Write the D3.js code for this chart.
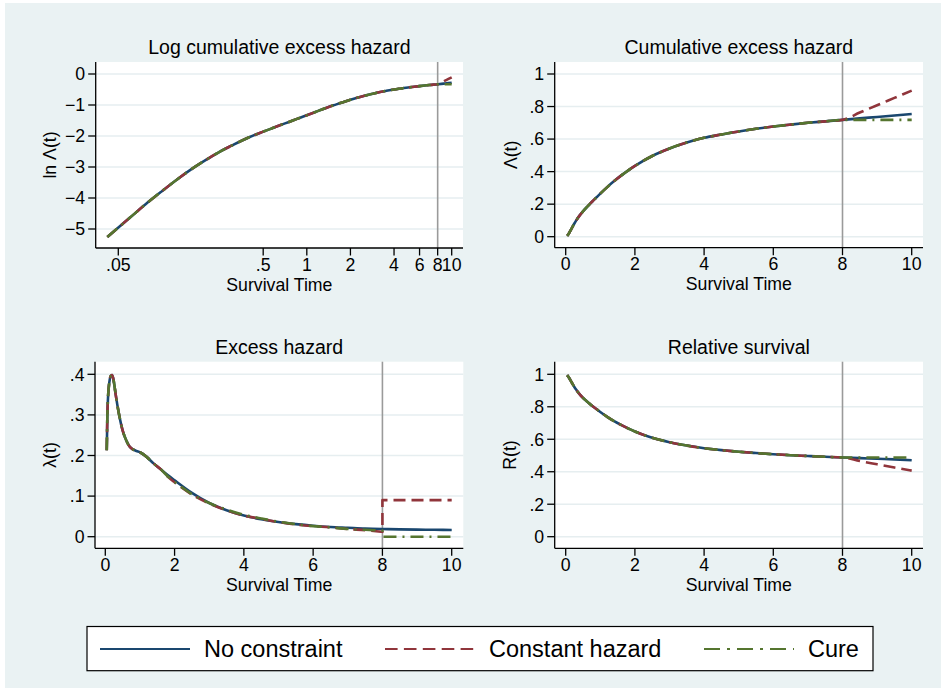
<!DOCTYPE html>
<html><head><meta charset="utf-8">
<script src="https://cdn.jsdelivr.net/npm/d3@7"></script>
<style>
body{margin:0;background:#fff}
text{font-family:"Liberation Sans",Arial,Helvetica,sans-serif;fill:#000}
</style>
</head><body>
<svg id="chart" width="946" height="691"></svg>
<script>
// ---------------- DATA ----------------
const seriesNames = ["No constraint", "Constant hazard", "Cure"];
const seriesColors = ["#1a476f", "#90353b", "#55752f"];
const seriesDash = [null, "12,6", "13,6,2,6"];

const panelTitles = ["Log cumulative excess hazard", "Cumulative excess hazard", "Excess hazard", "Relative survival"];
const yTitles = ["ln \u039B(t)", "\u039B(t)", "\u03BB(t)", "R(t)"];
const xTitle = "Survival Time";

const logXTicks = [0.05, 0.5, 1, 2, 4, 6, 8, 10];
const logXLabels = [".05", ".5", "1", "2", "4", "6", "8", "10"];
const linXTicks = [0, 2, 4, 6, 8, 10];
const linXLabels = ["0", "2", "4", "6", "8", "10"];
const lnYTicks = [0, -1, -2, -3, -4, -5];
const lnYLabels = ["0", "\u22121", "\u22122", "\u22123", "\u22124", "\u22125"];
const unitYTicks = [0, 0.2, 0.4, 0.6, 0.8, 1];
const unitYLabels = ["0", ".2", ".4", ".6", ".8", "1"];
const hazYTicks = [0, 0.1, 0.2, 0.3, 0.4];
const hazYLabels = ["0", ".1", ".2", ".3", ".4"];
const cutTime = 8;

const time = [0.042, 0.06, 0.08, 0.1, 0.13, 0.16, 0.2, 0.25, 0.3, 0.4, 0.5, 0.6, 0.7, 0.8, 0.9, 1.0,
  1.2, 1.4, 1.6, 1.8, 2.0, 2.5, 3.0, 3.5, 4.0, 4.5, 5.0, 5.5, 6.0, 6.5, 7.0, 7.5, 8.0, 8.5, 9.0, 9.5, 10.0];

// Log cumulative excess hazard
const lnCumHazNone = [-5.26, -4.64, -4.14, -3.78, -3.37, -3.07, -2.78, -2.51, -2.32, -2.04, -1.86, -1.72, -1.60, -1.50, -1.41, -1.33,
  -1.19, -1.07, -0.98, -0.90, -0.83, -0.70, -0.61, -0.547, -0.498, -0.465, -0.435, -0.411, -0.390, -0.372, -0.357, -0.344, -0.331,
  -0.319, -0.306, -0.294, -0.282];
const lnCumHazConst = [-5.26, -4.64, -4.14, -3.78, -3.37, -3.07, -2.78, -2.51, -2.32, -2.04, -1.86, -1.72, -1.60, -1.50, -1.41, -1.33,
  -1.19, -1.07, -0.98, -0.90, -0.83, -0.70, -0.61, -0.547, -0.498, -0.465, -0.435, -0.411, -0.390, -0.372, -0.357, -0.344, -0.331,
  -0.270, -0.213, -0.159, -0.108];
const lnCumHazCure = [-5.26, -4.64, -4.14, -3.78, -3.37, -3.07, -2.78, -2.51, -2.32, -2.04, -1.86, -1.72, -1.60, -1.50, -1.41, -1.33,
  -1.19, -1.07, -0.98, -0.90, -0.83, -0.70, -0.61, -0.547, -0.498, -0.465, -0.435, -0.411, -0.390, -0.372, -0.357, -0.344, -0.331,
  -0.331, -0.331, -0.331, -0.331];

// Cumulative excess hazard
const cumHazNone = [0.0052, 0.0097, 0.0159, 0.0229, 0.0343, 0.0462, 0.0621, 0.0811, 0.0986, 0.1296, 0.156, 0.1795, 0.2015, 0.2228, 0.2438, 0.2646,
  0.3046, 0.3416, 0.3752, 0.4062, 0.4348, 0.4958, 0.5418, 0.5788, 0.6078, 0.628, 0.647, 0.663, 0.677, 0.689, 0.700, 0.709, 0.718,
  0.727, 0.736, 0.745, 0.754];
const cumHazConst = [0.0052, 0.0097, 0.0159, 0.0229, 0.0343, 0.0462, 0.0621, 0.0811, 0.0986, 0.1296, 0.156, 0.1795, 0.2015, 0.2228, 0.2438, 0.2646,
  0.3046, 0.3416, 0.3752, 0.4062, 0.4348, 0.4958, 0.5418, 0.5788, 0.6078, 0.628, 0.647, 0.663, 0.677, 0.689, 0.700, 0.709, 0.718,
  0.763, 0.808, 0.853, 0.898];
const cumHazCure = [0.0052, 0.0097, 0.0159, 0.0229, 0.0343, 0.0462, 0.0621, 0.0811, 0.0986, 0.1296, 0.156, 0.1795, 0.2015, 0.2228, 0.2438, 0.2646,
  0.3046, 0.3416, 0.3752, 0.4062, 0.4348, 0.4958, 0.5418, 0.5788, 0.6078, 0.628, 0.647, 0.663, 0.677, 0.689, 0.700, 0.709, 0.718,
  0.718, 0.718, 0.718, 0.718];

// Excess hazard (time 8 appears twice: value just before and just after the cut)
const hazTime = [0.042, 0.06, 0.08, 0.1, 0.13, 0.16, 0.2, 0.25, 0.3, 0.4, 0.5, 0.6, 0.7, 0.8, 0.9, 1.0,
  1.2, 1.4, 1.6, 1.8, 2.0, 2.5, 3.0, 3.5, 4.0, 4.5, 5.0, 5.5, 6.0, 6.5, 7.0, 7.5, 8.0, 8.0, 8.5, 9.0, 9.5, 10.0];
const hazNone = [0.213, 0.30, 0.345, 0.368, 0.388, 0.396, 0.398, 0.38, 0.35, 0.30, 0.262, 0.238, 0.222, 0.215, 0.211, 0.208,
  0.196, 0.180, 0.166, 0.152, 0.139, 0.108, 0.083, 0.065, 0.052, 0.043, 0.036, 0.031, 0.027, 0.024, 0.022, 0.020, 0.019,
  0.019, 0.018, 0.0175, 0.017, 0.0165];
const hazConst = [0.213, 0.30, 0.345, 0.368, 0.388, 0.396, 0.398, 0.38, 0.35, 0.30, 0.262, 0.238, 0.222, 0.215, 0.211, 0.208,
  0.196, 0.180, 0.166, 0.148, 0.134, 0.104, 0.082, 0.065, 0.052, 0.044, 0.036, 0.030, 0.026, 0.023, 0.019, 0.016, 0.012,
  0.09, 0.09, 0.09, 0.09, 0.09];
const hazCure = [0.213, 0.30, 0.345, 0.368, 0.388, 0.396, 0.398, 0.38, 0.35, 0.30, 0.262, 0.238, 0.222, 0.215, 0.211, 0.208,
  0.196, 0.180, 0.166, 0.149, 0.135, 0.105, 0.083, 0.067, 0.054, 0.045, 0.037, 0.031, 0.026, 0.023, 0.019, 0.017, 0.015,
  0, 0, 0, 0, 0];

// Relative survival
const relSurvNone = [0.995, 0.99, 0.984, 0.977, 0.966, 0.955, 0.94, 0.922, 0.906, 0.878, 0.855, 0.836, 0.817, 0.800, 0.784, 0.768,
  0.738, 0.711, 0.688, 0.667, 0.648, 0.609, 0.582, 0.561, 0.545, 0.533, 0.523, 0.515, 0.508, 0.502, 0.497, 0.492, 0.488,
  0.484, 0.480, 0.476, 0.471];
const relSurvConst = [0.995, 0.99, 0.984, 0.977, 0.966, 0.955, 0.94, 0.922, 0.906, 0.878, 0.855, 0.836, 0.817, 0.800, 0.784, 0.768,
  0.738, 0.711, 0.688, 0.667, 0.648, 0.609, 0.582, 0.561, 0.545, 0.533, 0.523, 0.515, 0.508, 0.502, 0.497, 0.492, 0.488,
  0.466, 0.446, 0.426, 0.407];
const relSurvCure = [0.995, 0.99, 0.984, 0.977, 0.966, 0.955, 0.94, 0.922, 0.906, 0.878, 0.855, 0.836, 0.817, 0.800, 0.784, 0.768,
  0.738, 0.711, 0.688, 0.667, 0.648, 0.609, 0.582, 0.561, 0.545, 0.533, 0.523, 0.515, 0.508, 0.502, 0.497, 0.492, 0.488,
  0.488, 0.488, 0.488, 0.488];

// ---------------- LAYOUT ----------------
const svg = d3.select("#chart");
const BG = "#eaf2f3";
svg.append("rect").attr("x", 5).attr("y", 3).attr("width", 936).attr("height", 685).attr("fill", BG);

const panels = [
  { box: [95.7, 62, 463, 248], x: d3.scaleLog().domain([0.05, 10]).range([118.3, 451.7]),
    y: d3.scaleLinear().domain([-5, 0]).range([229, 74]),
    xt: logXTicks, xl: logXLabels, yt: lnYTicks, yl: lnYLabels,
    t: time, data: [lnCumHazNone, lnCumHazConst, lnCumHazCure], ytx: 56 },
  { box: [554.7, 62, 923, 247.7], x: d3.scaleLinear().domain([0, 10]).range([565.7, 911.7]),
    y: d3.scaleLinear().domain([0, 1]).range([236.7, 74]),
    xt: linXTicks, xl: linXLabels, yt: unitYTicks, yl: unitYLabels,
    t: time, data: [cumHazNone, cumHazConst, cumHazCure], ytx: 517 },
  { box: [95, 361.7, 463.3, 548.3], x: d3.scaleLinear().domain([0, 10]).range([105.3, 451.7]),
    y: d3.scaleLinear().domain([0, 0.4]).range([536.7, 374.3]),
    xt: linXTicks, xl: linXLabels, yt: hazYTicks, yl: hazYLabels,
    t: hazTime, data: [hazNone, hazConst, hazCure], ytx: 56 },
  { box: [554.7, 361.7, 923, 548.3], x: d3.scaleLinear().domain([0, 10]).range([565.7, 911.7]),
    y: d3.scaleLinear().domain([0, 1]).range([536.7, 374.3]),
    xt: linXTicks, xl: linXLabels, yt: unitYTicks, yl: unitYLabels,
    t: time, data: [relSurvNone, relSurvConst, relSurvCure], ytx: 516 }
];

function buildPath(ts, vs, x, y) {
  const pts = ts.map((t, i) => [x(t), y(vs[i])]);
  const runs = [];
  let cur = [pts[0]];
  for (let i = 1; i < pts.length; i++) {
    if (pts[i][0] > cur[cur.length - 1][0]) cur.push(pts[i]);
    else { runs.push(cur); cur = [pts[i]]; }
  }
  runs.push(cur);
  const gen = d3.line().curve(d3.curveMonotoneX);
  return runs.map((r, k) => {
    const s = r.length > 1 ? gen(r) : "M" + r[0][0] + "," + r[0][1];
    return k === 0 ? s : "L" + s.slice(1);
  }).join("");
}

panels.forEach((p, pi) => {
  const [x0, y0, x1, y1] = p.box;
  const g = svg.append("g");
  g.append("rect").attr("x", x0).attr("y", y0).attr("width", x1 - x0).attr("height", y1 - y0).attr("fill", "#fff");
  // gridlines
  p.yt.forEach(v => {
    g.append("line").attr("x1", x0).attr("x2", x1).attr("y1", p.y(v)).attr("y2", p.y(v))
      .attr("stroke", "#e6eef0").attr("stroke-width", 1.5);
  });
  // vertical reference line
  g.append("line").attr("x1", p.x(cutTime)).attr("x2", p.x(cutTime)).attr("y1", y0).attr("y2", y1)
    .attr("stroke", "#9a9a9a").attr("stroke-width", 1.6);
  // series
  p.data.forEach((vals, si) => {
    const path = g.append("path").attr("d", buildPath(p.t, vals, p.x, p.y))
      .attr("fill", "none").attr("stroke", seriesColors[si]).attr("stroke-width", 2.6)
      .attr("stroke-linejoin", "round");
    if (seriesDash[si]) path.attr("stroke-dasharray", seriesDash[si]);
  });
  // axes
  g.append("line").attr("x1", x0).attr("x2", x0).attr("y1", y0).attr("y2", y1).attr("stroke", "#000").attr("stroke-width", 1.3);
  g.append("line").attr("x1", x0).attr("x2", x1).attr("y1", y1).attr("y2", y1).attr("stroke", "#000").attr("stroke-width", 1.3);
  p.yt.forEach((v, i) => {
    const yy = p.y(v);
    g.append("line").attr("x1", x0 - 7.5).attr("x2", x0).attr("y1", yy).attr("y2", yy).attr("stroke", "#000").attr("stroke-width", 1.3);
    g.append("text").attr("x", x0 - 10.5).attr("y", yy + 6.3).attr("text-anchor", "end")
      .attr("font-size", 17.7).text(p.yl[i]);
  });
  p.xt.forEach((v, i) => {
    const xx = p.x(v);
    g.append("line").attr("x1", xx).attr("x2", xx).attr("y1", y1).attr("y2", y1 + 7.5).attr("stroke", "#000").attr("stroke-width", 1.3);
    g.append("text").attr("x", xx).attr("y", y1 + 22.6).attr("text-anchor", "middle")
      .attr("font-size", 17.7).text(p.xl[i]);
  });
  const cx = (x0 + x1) / 2, cy = (y0 + y1) / 2;
  g.append("text").attr("x", cx).attr("y", y1 + 42.6).attr("text-anchor", "middle").attr("font-size", 17.7).text(xTitle);
  g.append("text").attr("x", cx).attr("y", y0 - 8).attr("text-anchor", "middle").attr("font-size", 19.5).text(panelTitles[pi]);
  g.append("text").attr("transform", `translate(${p.ytx},${cy}) rotate(-90)`).attr("text-anchor", "middle")
    .attr("font-size", 17.7).text(yTitles[pi]);
});

// ---------------- LEGEND ----------------
const leg = svg.append("g");
leg.append("rect").attr("x", 87).attr("y", 626.5).attr("width", 786).attr("height", 44.2)
  .attr("fill", "#fff").attr("stroke", "#000").attr("stroke-width", 1.2);
const keyX = [100, 385, 704];
seriesNames.forEach((name, i) => {
  const l = leg.append("line").attr("x1", keyX[i]).attr("x2", keyX[i] + 90).attr("y1", 649).attr("y2", 649)
    .attr("stroke", seriesColors[i]).attr("stroke-width", 2);
  if (seriesDash[i]) l.attr("stroke-dasharray", i === 1 ? "12.6,6.3" : "16,7,3,7");
  leg.append("text").attr("x", keyX[i] + 104).attr("y", 656.5).attr("font-size", 23.5).text(name);
});
</script>
</body></html>
